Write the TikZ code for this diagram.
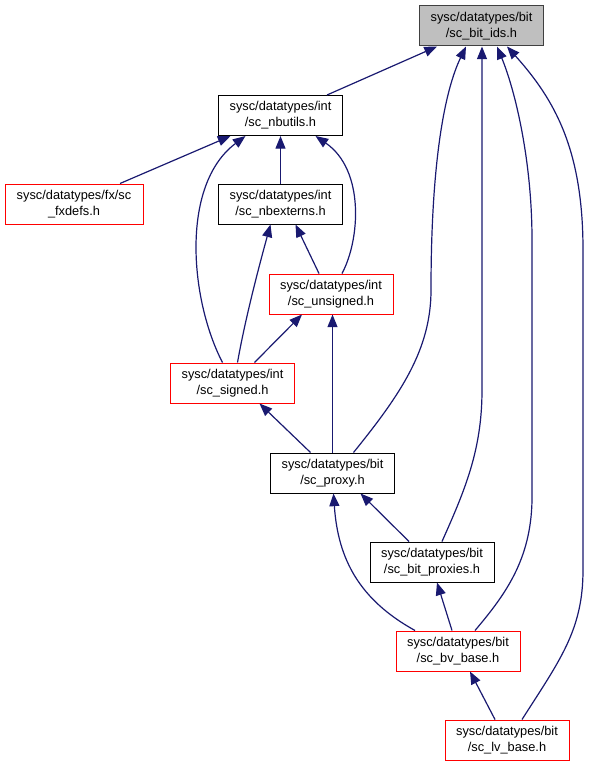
\documentclass[tikz,border=0pt]{standalone}
\usepackage{fontspec}
\setmainfont{Liberation Sans}
\usetikzlibrary{arrows.meta}
\usetikzlibrary{calc}
\definecolor{inclblue}{HTML}{191970}

\begin{document}
\begin{tikzpicture}[x=0.75pt,y=-0.75pt,
    hdr/.style={draw=black,fill=white,line width=0.75pt,minimum width=93pt,minimum height=30pt,inner sep=0pt,align=center,font=\fontsize{9.6}{12}\selectfont},
    hdrred/.style={hdr,draw=red},
    hdrmain/.style={hdr,draw=black!75,fill=black!25},
    incl/.style={draw=inclblue,line width=0.9pt,-{Triangle[length=9.5pt,width=7.5pt]}}]
    \useasboundingbox (0,0) rectangle (589,767);
    \node[hdrmain] (ids) at (481.5,26) {sysc/datatypes/bit\\/sc\_bit\_ids.h};
    \node[hdr] (nbutils) at (280.5,115.5) {sysc/datatypes/int\\/sc\_nbutils.h};
    \node[hdrred,minimum width=103.5pt] (fxdefs) at (74,204) {sysc/datatypes/fx/sc\\\_fxdefs.h};
    \node[hdr] (nbexterns) at (280.5,204) {sysc/datatypes/int\\/sc\_nbexterns.h};
    \node[hdrred] (unsigned) at (331,294) {sysc/datatypes/int\\/sc\_unsigned.h};
    \node[hdrred] (signed) at (232.5,383) {sysc/datatypes/int\\/sc\_signed.h};
    \node[hdr] (proxy) at (332.5,473) {sysc/datatypes/bit\\/sc\_proxy.h};
    \node[hdr] (bitproxies) at (432,562) {sysc/datatypes/bit\\/sc\_bit\_proxies.h};
    \node[hdrred] (bvbase) at (458,651) {sysc/datatypes/bit\\/sc\_bv\_base.h};
    \node[hdrred] (lvbase) at (507,740) {sysc/datatypes/bit\\/sc\_lv\_base.h};

    \draw[incl] ($(nbutils.north)+(46.5,0)$) -- ($(ids.south)+(-44.5,0)$);
    \draw[incl] ($(fxdefs.north)+(46,0)$) -- ($(nbutils.south)+(-50,0)$);
    \draw[incl] (nbexterns.north) -- (nbutils.south);
    \draw[incl] ($(signed.north)+(-10,0)$) .. controls (190,300) and (180,185) .. ($(nbutils.south)+(-35,0)$);
    \draw[incl] ($(signed.north)+(5,0)$) .. controls (245,320) and (258,270) .. ($(nbexterns.south)+(-10,0)$);
    \draw[incl] ($(unsigned.north)+(-12,0)$) -- ($(nbexterns.south)+(15,0)$);
    \draw[incl] ($(unsigned.north)+(11,0)$) .. controls (360,240) and (365,170) .. ($(nbutils.south)+(35,0)$);
    \draw[incl] ($(signed.north)+(22,0)$) -- ($(unsigned.south)+(-29,0)$);
    \draw[incl] ($(proxy.north)+(-22,0)$) -- ($(signed.south)+(27,0)$);
    \draw[incl] (proxy.north) -- (proxy.north |- unsigned.south);
    \draw[incl] ($(proxy.north)+(21,0)$) .. controls (400,395) and (431,350) .. (431,290) .. controls (431,160) and (445,90) .. ($(ids.south)+(-15.5,0)$);
    \draw[incl] ($(bitproxies.north)+(-23,0)$) -- ($(proxy.south)+(28,0)$);
    \draw[incl] ($(bitproxies.north)+(10,0)$) .. controls (465,490) and (482,450) .. (482,390) -- (482,46 |- ids.south);
    \draw[incl] ($(bvbase.north)+(-43,0)$) .. controls (360,600) and (338,560) .. ($(proxy.south)+(1,0)$);
    \draw[incl] ($(bvbase.north)+(-6,0)$) -- ($(bitproxies.south)+(5,0)$);
    \draw[incl] ($(bvbase.north)+(17,0)$) .. controls (505,595) and (531,560) .. (532,500) -- (532,240) .. controls (532,160) and (515,90) .. ($(ids.south)+(15.5,0)$);
    \draw[incl] ($(lvbase.north)+(-12,0)$) -- ($(bvbase.south)+(12,0)$);
    \draw[incl] ($(lvbase.north)+(15,0)$) .. controls (560,660) and (583,630) .. (583,570) -- (583,250) .. controls (583,150) and (555,100) .. ($(ids.south)+(25.5,0)$);
\end{tikzpicture}
\end{document}
